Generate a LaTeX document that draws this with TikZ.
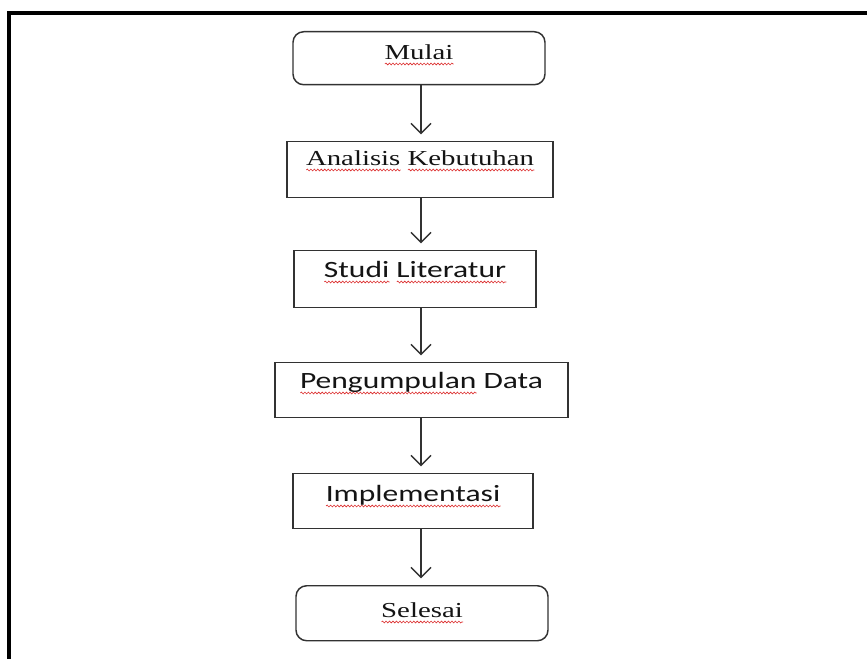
\documentclass[tikz,border=0pt]{standalone}
\usepackage{fontspec}
\setmainfont{Liberation Serif}[FakeStretch=1.35]
\newfontfamily\calibri{Carlito}[FakeStretch=1.35]
\usepackage{xcolor}
\usepackage{tikz}
\usetikzlibrary{arrows.meta,decorations.pathmorphing}
\definecolor{linec}{RGB}{50,50,50}
\definecolor{inkc}{RGB}{20,20,20}
\definecolor{typoc}{RGB}{220,45,45}
\newsavebox\typobox
\newlength\typowd
% spell-checker squiggle under a word
\newcommand\typo[1]{\sbox\typobox{#1}\setlength\typowd{\wd\typobox}%
  \rlap{\tikz[baseline=0pt]\draw[typoc, sharp corners, line width=0.45pt, decorate,
    decoration={snake, amplitude=0.7pt, segment length=2.6pt}] (0pt,-3.2pt) -- (\typowd,-3.2pt);}%
  \usebox\typobox}
\tikzset{
  term/.style     = {draw=linec, line width=1.1pt, rounded corners=8pt, fill=white,
                     inner sep=0pt, anchor=north, text=inkc, font=\fontsize{16}{18}\selectfont},
  stepbox/.style  = {draw=linec, line width=1.1pt, fill=white,
                     inner sep=0pt, anchor=north, text=inkc, font=\fontsize{16}{18}\selectfont},
  stepsans/.style = {stepbox, font=\calibri\fontsize{17.5}{20}\selectfont},
  flow/.style     = {-{Straight Barb[length=7.5pt,width=15pt,line width=1.1pt]},
                     line width=1.1pt, draw=linec, shorten >=5pt},
  frame/.style    = {line width=2.5pt, draw=black},
}
\begin{document}
\begin{tikzpicture}[x=0.75pt,y=-0.75pt]
\useasboundingbox (0,0) rectangle (867,659);

% page frame, cut off at the right and bottom edges
\draw[frame] (9,670) -- (9,13) -- (880,13);
\coordinate (spine) at (421,0);

% one column, explicit coordinates in pixels, anchored at the top edge
\node[term, minimum width=189pt, text height=21pt, text depth=18.75pt] (mulai) at (419,31)
  {\typo{Mulai}};
\node[stepbox, minimum width=199.5pt, text height=18pt, text depth=24pt] (analisis) at (420,141)
  {\typo{Analisis} \typo{Kebutuhan}};
\node[stepsans, minimum width=181.5pt, text height=20.25pt, text depth=22.5pt] (studi) at (415,250)
  {\typo{Studi} \typo{Literatur}};
\node[stepsans, minimum width=219.75pt, text height=19.5pt, text depth=21.75pt] (kumpul) at (421.5,362)
  {\typo{Pengumpulan} Data};
\node[stepsans, minimum width=180pt, text height=21pt, text depth=20.25pt] (impl) at (413,473)
  {\typo{Implementasi}};
\node[term, minimum width=189pt, text height=24pt, text depth=17.25pt] (selesai) at (422,585)
  {\typo{Selesai}};

\draw[flow] (mulai.south -| spine) -- (analisis.north -| spine);
\draw[flow] (analisis.south -| spine) -- (studi.north -| spine);
\draw[flow] (studi.south -| spine) -- (kumpul.north -| spine);
\draw[flow] (kumpul.south -| spine) -- (impl.north -| spine);
\draw[flow] (impl.south -| spine) -- (selesai.north -| spine);

\end{tikzpicture}
\end{document}
